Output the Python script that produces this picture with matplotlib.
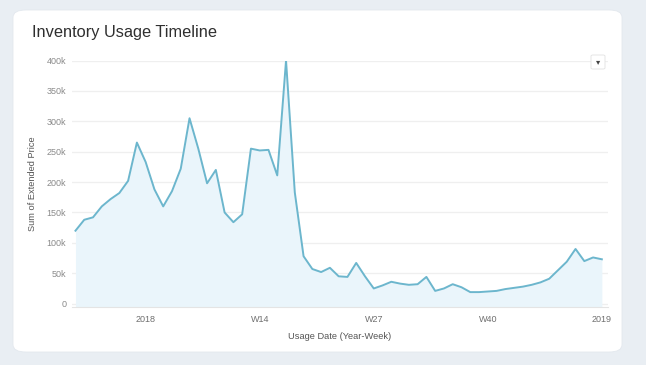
import matplotlib
matplotlib.use("Agg")
import matplotlib.pyplot as plt
from matplotlib.patches import FancyBboxPatch, Rectangle
import numpy as np

plt.rcParams['font.family'] = ['Liberation Sans', 'DejaVu Sans']

# Weekly sums (k), 2017-W45 .. 2019-W01
values_k = [120, 138, 142, 160, 172, 182, 202, 265, 233, 188,
            160, 185, 222, 305, 255, 198, 220, 150, 134, 147,
            255, 252, 253, 211, 400, 183, 78, 57, 52, 59,
            45, 44, 67, 45, 25, 30, 36, 33, 31, 32,
            44, 21, 25, 32, 27, 19, 19, 20, 21, 24,
            26, 28, 31, 35, 41, 55, 69, 90, 70, 76, 73]
tick_idx = [8, 21, 34, 47, 60]
tick_labels = ["2018", "W14", "W27", "W40", "2019"]
y_ticks = [0, 50, 100, 150, 200, 250, 300, 350, 400]
y_tick_labels = ["0", "50k", "100k", "150k", "200k", "250k", "300k", "350k", "400k"]

W, H = 646, 365
fig = plt.figure(figsize=(W / 100, H / 100), dpi=100)
fig.patch.set_facecolor("#e9eef3")

# white card
card = FancyBboxPatch((13 / W, 1 - 352 / H), (622 - 13) / W, (352 - 10) / H,
                      boxstyle="round,pad=0,rounding_size=0.02",
                      transform=fig.transFigure, facecolor="white",
                      edgecolor="#e3e8ee", linewidth=0.6, zorder=-10)
fig.patches.append(card)

fig.text(32 / W, 1 - 32 / H, "Inventory Usage Timeline", fontsize=11.8,
         color="#2f2f2f", va="center", ha="left")

left, right = 71.7 / W, 608 / W
top, bottom = 1 - 60.5 / H, 1 - 306.7 / H
ax = fig.add_axes([left, bottom, right - left, top - bottom], zorder=1)
ax.set_facecolor("none")

x = np.arange(len(values_k))
ax.fill_between(x, values_k, -5, color="#eaf5fb", zorder=1, linewidth=0)
ax.plot(x, values_k, color="#6cb6cd", linewidth=1.4, zorder=3,
        solid_joinstyle="round")

ax.set_xlim(-0.43, 60.7)
ax.set_ylim(-5, 400)
ax.set_yticks(y_ticks)
ax.set_yticklabels(y_tick_labels)
ax.set_xticks(tick_idx)
ax.set_xticklabels(tick_labels)
ax.tick_params(axis="both", length=0, labelsize=6.5, labelcolor="#8a8a8a")
ax.tick_params(axis="x", pad=6, labelcolor="#6f6f6f")
ax.tick_params(axis="y", pad=4)
ax.grid(axis="y", color="#efefef", linewidth=0.9, zorder=0)
ax.set_axisbelow(True)
for s in ["top", "right", "left"]:
    ax.spines[s].set_visible(False)
ax.spines["bottom"].set_color("#e4e4e4")
ax.spines["bottom"].set_linewidth(0.8)

ax.set_ylabel("Sum of Extended Price", fontsize=6.7, color="#555555", labelpad=7)
ax.set_xlabel("Usage Date (Year-Week)", fontsize=6.7, color="#555555", labelpad=6)

# dropdown button
bx, by, bw, bh = 591 / W, 1 - 69 / H, 14 / W, 14 / H
btn = FancyBboxPatch((bx, by), bw, bh, boxstyle="round,pad=0,rounding_size=0.003",
                     transform=fig.transFigure, facecolor="white",
                     edgecolor="#e2e2e2", linewidth=0.6, zorder=5)
fig.patches.append(btn)
fig.text(bx + bw / 2, by + bh / 2, "\u25BE", fontsize=6, color="#444444",
         ha="center", va="center", family=["DejaVu Sans"], zorder=6)

fig.savefig("out.png", dpi=100, facecolor=fig.get_facecolor())
